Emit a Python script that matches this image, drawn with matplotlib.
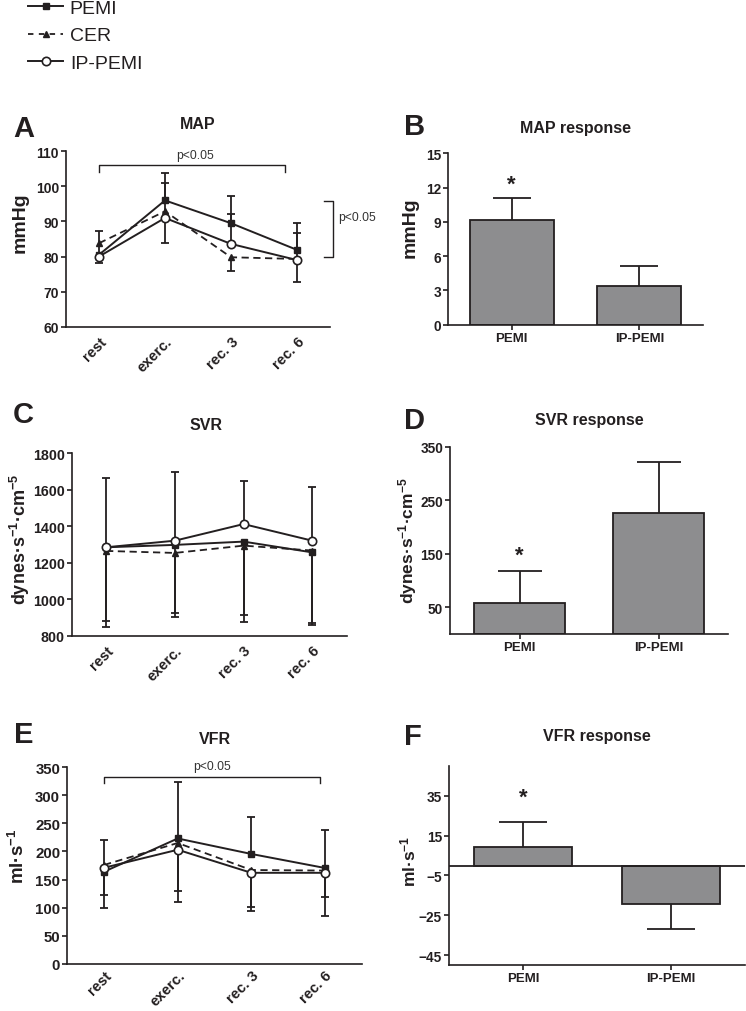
import numpy as np
import matplotlib
matplotlib.use("Agg")
from matplotlib import pyplot as plt
from matplotlib.lines import Line2D

plt.rcParams['font.family'] = ['Liberation Sans', 'DejaVu Sans']
plt.rcParams['font.weight'] = 'bold'
plt.rcParams['mathtext.fontset'] = 'custom'
plt.rcParams['mathtext.rm'] = 'Liberation Sans:bold'
plt.rcParams['mathtext.it'] = 'Liberation Sans:bold'
plt.rcParams['mathtext.bf'] = 'Liberation Sans:bold'
plt.rcParams['text.color'] = '#231f20'
plt.rcParams['axes.edgecolor'] = '#231f20'
plt.rcParams['xtick.color'] = '#231f20'
plt.rcParams['ytick.color'] = '#231f20'

timepoints = ['rest', 'exerc.', 'rec. 3', 'rec. 6']
groups = ['PEMI', 'IP-PEMI']

# MAP (mmHg)
map_pemi = [80.5, 96.0, 89.5, 81.9]
map_cer = [83.8, 92.9, 79.8, 79.3]
map_ip = [80.0, 91.0, 83.6, 79.0]
map_pemi_up = [6.9, 7.8, 7.9, 7.7]
map_pemi_lo = [0, 0, 0, 0]
map_cer_up = [0, 8.1, 0, 0]
map_cer_lo = [0, 0, 4.0, 0]
map_ip_up = [0, 0, 8.6, 7.8]
map_ip_lo = [1.9, 7.2, 0, 6.3]

# SVR (dynes s-1 cm-5)
svr_pemi = [1284, 1297, 1315, 1256]
svr_cer = [1264, 1253, 1293, 1266]
svr_ip = [1284, 1320, 1411, 1320]
svr_pemi_up = [0, 0, 0, 0]
svr_pemi_lo = [405, 372, 399, 386]
svr_cer_up = [0, 0, 0, 0]
svr_cer_lo = [414, 348, 417, 410]
svr_ip_up = [380, 374, 237, 292]
svr_ip_lo = [0, 0, 0, 0]

# VFR (ml s-1)
vfr_pemi = [164, 223, 195.5, 170.6]
vfr_cer = [176, 215, 167, 166]
vfr_ip = [171, 203, 162, 162]
vfr_pemi_up = [56, 100, 66.5, 68]
vfr_pemi_lo = [0, 0, 0, 0]
vfr_cer_up = [0, 0, 0, 0]
vfr_cer_lo = [53, 85, 65, 47.5]
vfr_ip_up = [0, 0, 0, 0]
vfr_ip_lo = [71.5, 92, 68.4, 76]

# responses
map_resp = [9.16, 3.41]
map_resp_err = [1.9, 1.73]
svr_resp = [58.5, 227]
svr_resp_err = [59.5, 95]
vfr_resp = [9.5, -19.3]
vfr_resp_err = [12.3, 12.7]

W, H = 746, 1012
fig = plt.figure(figsize=(W / 100, H / 100), dpi=100)

BAR_GREY = '#8d8d8f'
INK = '#231f20'


def add_ax(l, t, r, b, ytick_size=10):
    ax = fig.add_axes([l / W, 1 - b / H, (r - l) / W, (b - t) / H])
    ax.spines['top'].set_visible(False)
    ax.spines['right'].set_visible(False)
    ax.spines['left'].set_linewidth(1.2)
    ax.spines['bottom'].set_linewidth(1.2)
    ax.tick_params(direction='out', length=3.6, width=1.2, labelsize=ytick_size, pad=1.5)
    return ax


def ftext(x, y, s, **kw):
    fig.text(x / W, 1 - y / H, s, **kw)


def err_bars(ax, x, y, lo, up, cap, lw=1.3, z=2):
    x = np.asarray(x, dtype=float)
    y = np.asarray(y, dtype=float)
    lo = np.asarray(lo, dtype=float)
    up = np.asarray(up, dtype=float)
    ax.vlines(x, y - lo, y + up, colors=INK, lw=lw, zorder=z)
    m = up > 0
    ax.plot(x[m], (y + up)[m], ls='none', marker='_', ms=2 * cap, mew=lw, color=INK, zorder=z)
    m = lo > 0
    ax.plot(x[m], (y - lo)[m], ls='none', marker='_', ms=2 * cap, mew=lw, color=INK, zorder=z)


def line_panel(ax, pemi, cer, ip, errs, xlab_size, xpad=5):
    x = np.arange(len(timepoints))
    err_bars(ax, x, pemi, errs[0], errs[1], 2.6)
    err_bars(ax, x, cer, errs[2], errs[3], 2.6)
    err_bars(ax, x, ip, errs[4], errs[5], 2.6)
    ax.plot(x, pemi, '-', color=INK, lw=1.4, marker='s', ms=5, zorder=4)
    ax.plot(x, cer, '--', color=INK, lw=1.3, dashes=(4, 2.5), marker='^', ms=4.5, zorder=3)
    ax.plot(x, ip, '-', color=INK, lw=1.4, marker='o', ms=6, mfc='white',
            mec=INK, mew=1.2, zorder=5)
    ax.set_xlim(-0.5, 3.5)
    ax.set_xticks(x)
    ax.set_xticklabels(timepoints, rotation=45, ha='right', rotation_mode='anchor',
                       fontsize=xlab_size)
    ax.tick_params(axis='x', length=0, pad=xpad)


def bar_panel(ax, vals, errs, capsize):
    x = np.arange(len(groups))
    ax.bar(x, vals, width=0.66, color=BAR_GREY, edgecolor=INK, linewidth=1.3, zorder=2)
    vals = np.asarray(vals, dtype=float)
    errs = np.asarray(errs, dtype=float)
    up = np.where(vals >= 0, errs, 0)
    lo = np.where(vals < 0, errs, 0)
    err_bars(ax, x, vals, lo, up, capsize, z=1)
    ax.set_xlim(-0.5, 1.5)
    ax.set_xticks(x)
    ax.set_xticklabels(groups, fontsize=9.5)


# ---- A: MAP
axA = add_ax(66, 152.3, 330, 327.7, 10)
line_panel(axA, map_pemi, map_cer, map_ip,
           [map_pemi_lo, map_pemi_up, map_cer_lo, map_cer_up, map_ip_lo, map_ip_up], 10.5)
axA.set_ylim(60, 110)
axA.set_yticks(range(60, 111, 10))
axA.plot([0, 0, 2.82, 2.82], [104.1, 106, 106, 104.1], color=INK, lw=1.0, clip_on=False)
axA.text(1.45, 108.9, 'p<0.05', ha='center', va='center', fontsize=8.7,
         fontweight='normal', color='#333333')
axA.plot([3.41, 3.55, 3.55, 3.41], [95.7, 95.7, 80, 80], color=INK, lw=1.0, clip_on=False)
axA.text(3.62, 91.3, 'p<0.05', ha='left', va='center', fontsize=8.7,
         fontweight='normal', color='#333333')

# ---- B: MAP response
axB = add_ax(448, 154.3, 703, 325.7, 9.8)
bar_panel(axB, map_resp, map_resp_err, 14)
axB.set_ylim(0, 15)
axB.set_yticks(range(0, 16, 3))
axB.text(0, 12.3, '*', ha='center', va='center', fontsize=16)

# ---- C: SVR
axC = add_ax(71.7, 454, 346.7, 636.7, 10.3)
line_panel(axC, svr_pemi, svr_cer, svr_ip,
           [svr_pemi_lo, svr_pemi_up, svr_cer_lo, svr_cer_up, svr_ip_lo, svr_ip_up], 10.5)
axC.set_ylim(800, 1800)
axC.set_yticks(range(800, 1801, 200))

# ---- D: SVR response
axD = add_ax(450, 447.7, 728, 635, 9.8)
bar_panel(axD, svr_resp, svr_resp_err, 16)
axD.set_ylim(0, 350)
axD.set_yticks([50, 150, 250, 350])
axD.text(0, 148, '*', ha='center', va='center', fontsize=16)

# ---- E: VFR
axE = add_ax(67.3, 768, 361.7, 965, 10.8)
line_panel(axE, vfr_pemi, vfr_cer, vfr_ip,
           [vfr_pemi_lo, vfr_pemi_up, vfr_cer_lo, vfr_cer_up, vfr_ip_lo, vfr_ip_up], 10.6, 3)
axE.set_ylim(0, 350)
axE.set_yticks(range(0, 351, 50))
axE.plot([0, 0, 2.94, 2.94], [321.7, 331.8, 331.8, 321.7], color=INK, lw=1.0, clip_on=False)
axE.text(1.47, 352.4, 'p<0.05', ha='center', va='center', fontsize=8.7,
         fontweight='normal', color='#333333')

# ---- F: VFR response
axF = add_ax(449, 767, 745, 966, 9.8)
bar_panel(axF, vfr_resp, vfr_resp_err, 17)
axF.set_ylim(-50, 50)
axF.set_yticks([35, 15, -5, -25, -45])
axF.axhline(0, color=INK, lw=1.3, zorder=3)
axF.text(0, 34.5, '*', ha='center', va='center', fontsize=16)

# titles, panel letters, y labels
titles = [('MAP', 198, 125), ('MAP response', 576, 128.3), ('SVR', 206, 425),
          ('SVR response', 589, 420.7), ('VFR', 215, 739.3), ('VFR response', 597, 736.7)]
for s, x, y in titles:
    ftext(x, y, s, ha='center', va='center', fontsize=11.5)

letters = [('A', 24, 129.3), ('B', 415, 127.3), ('C', 23.3, 415),
           ('D', 415, 420.7), ('E', 23.3, 735), ('F', 413, 736.7)]
for s, x, y in letters:
    ftext(x, y, s, ha='center', va='center', fontsize=21)

ylabels = [('mmHg', 20, 222.5, 14), ('mmHg', 410, 228, 14),
           ('dynes·s$^{-1}$·cm$^{-5}$', 20, 539, 13), ('dynes·s$^{-1}$·cm$^{-5}$', 408, 541, 12.5),
           ('ml·s$^{-1}$', 18, 856.7, 13.5), ('ml·s$^{-1}$', 408, 861.7, 12.5)]
for s, x, y, fs in ylabels:
    ftext(x, y, s, ha='center', va='center', rotation=90, fontsize=fs)

# legend
handles = [
    Line2D([], [], color=INK, lw=1.4, marker='s', ms=5),
    Line2D([], [], color=INK, lw=1.3, ls='--', dashes=(3, 3), marker='^', ms=4.5),
    Line2D([], [], color=INK, lw=1.4, marker='o', ms=6, mfc='white', mec=INK, mew=1.2),
]
fig.legend(handles, ['PEMI', 'CER', 'IP-PEMI'], loc='upper left',
           bbox_to_anchor=(28 / W, 1 - 0.5 / H), frameon=False, borderpad=0,
           borderaxespad=0, handlelength=1.8, handletextpad=0.35, labelspacing=0.5,
           prop={'size': 14, 'weight': 'normal'})

fig.savefig('out.png', dpi=100)
